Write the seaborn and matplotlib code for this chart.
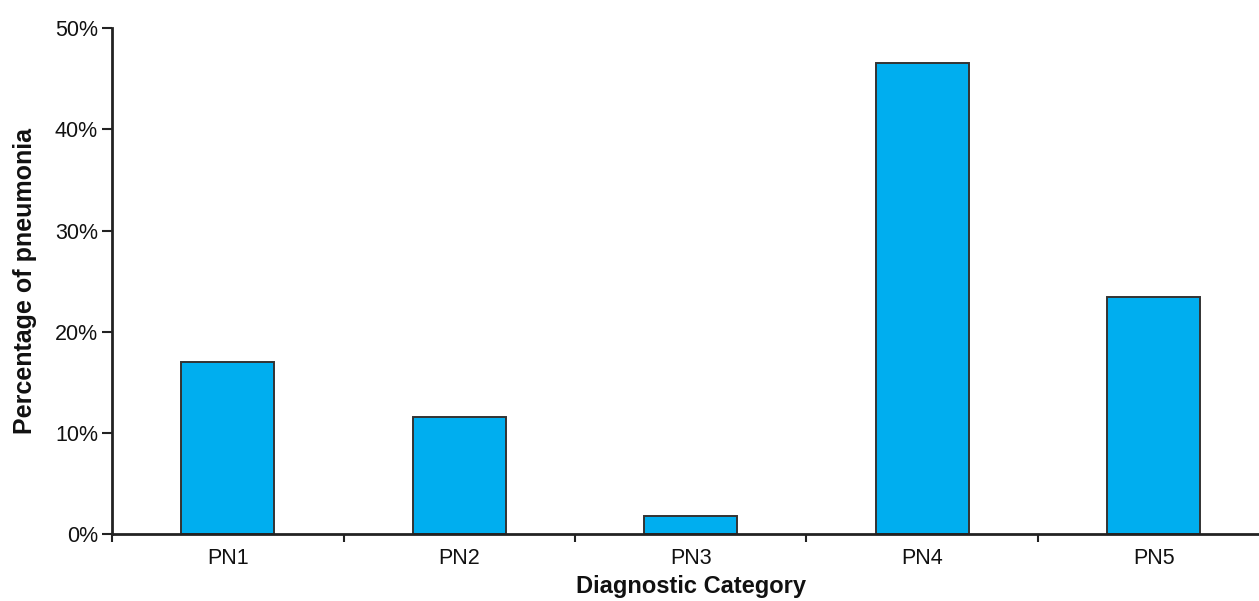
import pandas as pd
import matplotlib
matplotlib.use('Agg')
import matplotlib.pyplot as plt
import seaborn as sns
from matplotlib.ticker import FixedLocator, PercentFormatter

# values (percent)
categories = ['PN1', 'PN2', 'PN3', 'PN4', 'PN5']
percentages = [17.0, 11.6, 1.8, 46.6, 23.4]
y_ticks = [0, 10, 20, 30, 40, 50]

df = pd.DataFrame({'Category': categories, 'Percentage': percentages})

sns.set_theme(style='white')
plt.rcParams['font.family'] = ['Liberation Sans', 'DejaVu Sans']

fig = plt.figure(figsize=(12.59, 6.01), dpi=100)
# axes run a little past the right edge, as in the original crop
ax = fig.add_axes([112 / 1259, 66.7 / 601, 1157.5 / 1259, 506 / 601])

sns.barplot(data=df, x='Category', y='Percentage', color='#00AEEF',
            width=0.4, edgecolor='#333333', linewidth=1.4, saturation=1, ax=ax)

ax.set_xlim(-0.5, len(categories) - 0.5)
ax.set_ylim(0, 50)
ax.set_yticks(y_ticks)
ax.yaxis.set_major_formatter(PercentFormatter(decimals=0))

# tick marks sit between categories, labels at the centres
ax.xaxis.set_major_locator(FixedLocator([i + 0.5 for i in range(-1, len(categories))]))
ax.xaxis.set_minor_locator(FixedLocator(range(len(categories))))
ax.set_xticklabels([''] * (len(categories) + 1))
ax.set_xticklabels(categories, minor=True)
ax.tick_params(axis='x', which='major', length=5.5, width=1.5, color='#222222', direction='out', bottom=True)
ax.tick_params(axis='x', which='minor', length=0, labelsize=15.5, pad=10, colors='#111111')
ax.tick_params(axis='y', length=7.5, width=1.5, color='#222222', direction='out', left=True,
               labelsize=15.5, pad=2.5, labelcolor='#111111')

for side in ['top', 'right']:
    ax.spines[side].set_visible(False)
for side in ['left', 'bottom']:
    ax.spines[side].set_color('#222222')
    ax.spines[side].set_linewidth(2)

ax.set_xlabel('Diagnostic Category', fontsize=17, fontweight='bold', labelpad=4, color='#111111')
ax.set_ylabel('Percentage of pneumonia', fontsize=18, fontweight='bold', labelpad=13, color='#111111')
ax.grid(False)

fig.savefig('out.png', dpi=100)
